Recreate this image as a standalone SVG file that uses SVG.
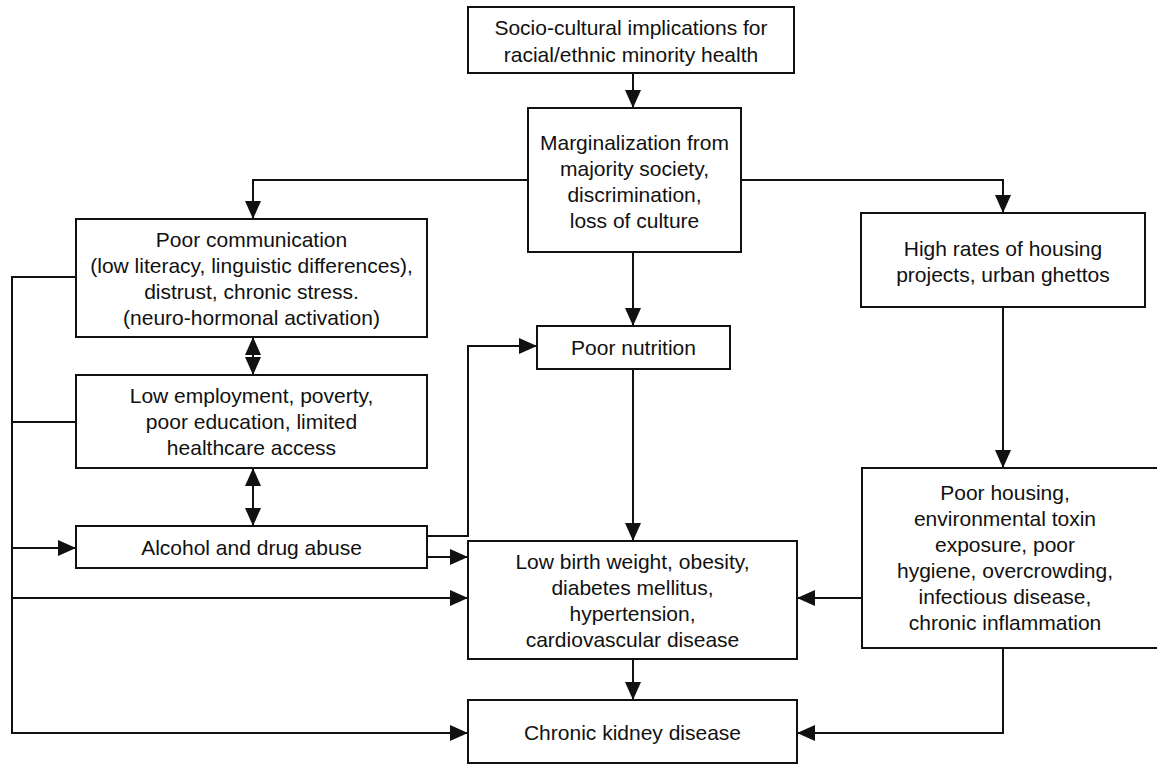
<svg xmlns="http://www.w3.org/2000/svg" width="1157" height="765" viewBox="0 0 1157 765">
<style>
.box{fill:#fff;stroke:#111;stroke-width:2}
.lbl{font-family:"Liberation Sans",Arial,Helvetica,sans-serif;font-size:21px;fill:#111;text-anchor:middle}
.c{fill:none;stroke:#111;stroke-width:2}
</style>
<defs>
<marker id="ah" markerUnits="userSpaceOnUse" markerWidth="18" markerHeight="16" refX="18" refY="8" orient="auto-start-reverse" viewBox="0 0 18 16">
<path d="M0,0 L18,8 L0,16 z" fill="#111"/>
</marker>
</defs>
<rect width="1157" height="765" fill="#fff"/>
<g id="connectors">
<path class="c" d="M633,73 V108" marker-end="url(#ah)"/>
<path class="c" d="M528,180 H253 V219" marker-end="url(#ah)"/>
<path class="c" d="M741,180 H1003 V213" marker-end="url(#ah)"/>
<path class="c" d="M633,252 V326" marker-end="url(#ah)"/>
<path class="c" d="M633,369 V541" marker-end="url(#ah)"/>
<path class="c" d="M633,659 V700" marker-end="url(#ah)"/>
<path class="c" d="M1003,307 V468" marker-end="url(#ah)"/>
<path class="c" d="M862,598 H797" marker-end="url(#ah)"/>
<path class="c" d="M1003,648 V733 H797" marker-end="url(#ah)"/>
<path class="c" d="M253,337 V375" marker-start="url(#ah)" marker-end="url(#ah)"/>
<path class="c" d="M253,468 V526" marker-start="url(#ah)" marker-end="url(#ah)"/>
<path class="c" d="M427,536 H468 V346 H537" marker-end="url(#ah)"/>
<path class="c" d="M427,557 H468" marker-end="url(#ah)"/>
<path class="c" d="M76,277 H12 V733 H468" marker-end="url(#ah)"/>
<path class="c" d="M76,422 H12"/>
<path class="c" d="M12,548 H76" marker-end="url(#ah)"/>
<path class="c" d="M12,598 H468" marker-end="url(#ah)"/>
</g>
<g id="n-top">
<rect class="box" x="468" y="7" width="326" height="66"/>
<text class="lbl" x="631" y="35">Socio-cultural implications for</text>
<text class="lbl" x="631" y="62">racial/ethnic minority health</text>
</g>
<g id="n-marginalization">
<rect class="box" x="528" y="108" width="213" height="144"/>
<text class="lbl" x="634.5" y="150">Marginalization from</text>
<text class="lbl" x="634.5" y="176">majority society,</text>
<text class="lbl" x="634.5" y="202">discrimination,</text>
<text class="lbl" x="634.5" y="228">loss of culture</text>
</g>
<g id="n-communication">
<rect class="box" x="76" y="219" width="351" height="118"/>
<text class="lbl" x="251.5" y="247">Poor communication</text>
<text class="lbl" x="251.5" y="273">(low literacy, linguistic differences),</text>
<text class="lbl" x="251.5" y="299">distrust, chronic stress.</text>
<text class="lbl" x="251.5" y="325">(neuro-hormonal activation)</text>
</g>
<g id="n-employment">
<rect class="box" x="76" y="375" width="351" height="93"/>
<text class="lbl" x="251.5" y="403">Low employment, poverty,</text>
<text class="lbl" x="251.5" y="429">poor education, limited</text>
<text class="lbl" x="251.5" y="455">healthcare access</text>
</g>
<g id="n-alcohol">
<rect class="box" x="76" y="526" width="351" height="42"/>
<text class="lbl" x="251.5" y="554.5">Alcohol and drug abuse</text>
</g>
<g id="n-nutrition">
<rect class="box" x="537" y="326" width="193" height="43"/>
<text class="lbl" x="633.5" y="355">Poor nutrition</text>
</g>
<g id="n-lowbirth">
<rect class="box" x="468" y="541" width="329" height="118"/>
<text class="lbl" x="632.5" y="569">Low birth weight, obesity,</text>
<text class="lbl" x="632.5" y="595">diabetes mellitus,</text>
<text class="lbl" x="632.5" y="621">hypertension,</text>
<text class="lbl" x="632.5" y="647">cardiovascular disease</text>
</g>
<g id="n-ckd">
<rect class="box" x="468" y="700" width="329" height="63"/>
<text class="lbl" x="632.5" y="740">Chronic kidney disease</text>
</g>
<g id="n-highrates">
<rect class="box" x="861" y="213" width="284" height="94"/>
<text class="lbl" x="1003" y="256">High rates of housing</text>
<text class="lbl" x="1003" y="282">projects, urban ghettos</text>
</g>
<g id="n-poorhousing">
<rect class="box" x="862" y="468" width="300" height="180"/>
<text class="lbl" x="1005" y="500">Poor housing,</text>
<text class="lbl" x="1005" y="526">environmental toxin</text>
<text class="lbl" x="1005" y="552">exposure, poor</text>
<text class="lbl" x="1005" y="578">hygiene, overcrowding,</text>
<text class="lbl" x="1005" y="604">infectious disease,</text>
<text class="lbl" x="1005" y="630">chronic inflammation</text>
</g>
</svg>
